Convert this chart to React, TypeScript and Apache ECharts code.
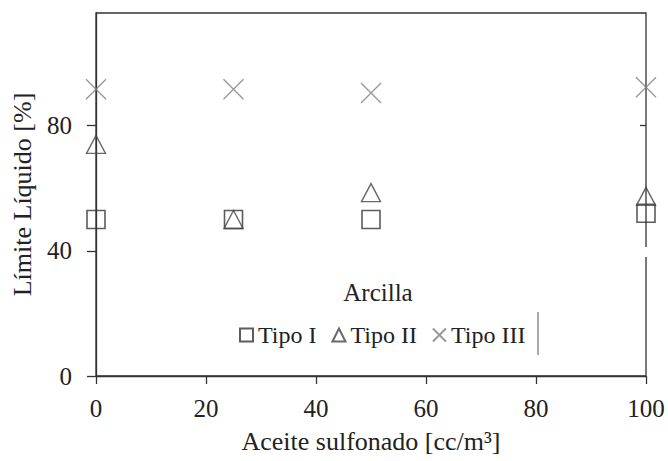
import React, { useEffect, useRef } from 'react';
import * as echarts from 'echarts';

const xValues = [0, 25, 50, 100];
const tipoI = [50, 50, 50, 52];
const tipoII = [74, 50, 58.6, 57.4];
const tipoIII = [91.6, 91.6, 90.4, 92.3];
const seriesNames = ['Tipo I', 'Tipo II', 'Tipo III'];
const yTicks = [0, 40, 80];
const xAxisName = 'Aceite sulfonado [cc/m³]';
const yAxisName = 'Límite Líquido [%]';
const legendTitle = 'Arcilla';

const FONT = 'Liberation Serif';

export default function App() {
  const ref = useRef<HTMLDivElement>(null);
  useEffect(() => {
    if (!ref.current) return;
    const chart = echarts.init(ref.current, undefined, { renderer: 'svg' });
    const pts = (ys: number[]) => xValues.map((x, i) => [x, ys[i]]);
    chart.setOption({
      animation: false,
      backgroundColor: '#fff',
      textStyle: { fontFamily: FONT },
      grid: {
        left: 96, right: 22, top: 13, bottom: 85,
        show: true, borderColor: '#333', borderWidth: 1.3,
      },
      legend: {
        data: seriesNames,
        top: 318, left: 234,
        itemWidth: 13, itemHeight: 13, itemGap: 15,
        selectedMode: false,
        textStyle: { fontSize: 24, fontFamily: FONT, color: '#222' },
      },
      xAxis: {
        type: 'value', min: 0, max: 100, interval: 20,
        axisLine: { lineStyle: { color: '#333', width: 1.3 } },
        axisTick: { inside: false, length: 8, lineStyle: { color: '#333', width: 1.3 } },
        axisLabel: { fontSize: 25, margin: 20, color: '#222', fontFamily: FONT },
        splitLine: { show: false },
        name: xAxisName, nameLocation: 'middle', nameGap: 52,
        nameTextStyle: { fontSize: 26, color: '#222', fontFamily: FONT },
      },
      yAxis: [
        {
          type: 'value', min: 0, max: 116, interval: 40,
          axisLine: { show: true, lineStyle: { color: '#333', width: 1.3 } },
          axisTick: { show: true, inside: false, length: 9, customValues: yTicks, lineStyle: { color: '#333', width: 1.3 } },
          axisLabel: { fontSize: 25, margin: 24, color: '#222', fontFamily: FONT, customValues: yTicks },
          splitLine: { show: false },
          name: yAxisName, nameLocation: 'middle', nameGap: 61,
          nameTextStyle: { fontSize: 26, color: '#222', fontFamily: FONT },
        },
        {
          type: 'value', min: 0, max: 116, position: 'right',
          axisLine: { show: false },
          axisTick: { show: true, inside: true, length: 6, customValues: [80], lineStyle: { color: '#333', width: 1.3 } },
          axisLabel: { show: false },
          splitLine: { show: false },
        },
      ],
      series: [
        {
          name: seriesNames[0], type: 'scatter', data: pts(tipoI), clip: false,
          symbol: 'rect', symbolSize: 18,
          itemStyle: { color: 'rgba(0,0,0,0)', borderColor: '#333', borderWidth: 1.6 },
        },
        {
          name: seriesNames[1], type: 'scatter', data: pts(tipoII), clip: false,
          symbol: 'triangle', symbolSize: [19, 18],
          itemStyle: { color: 'rgba(0,0,0,0)', borderColor: '#444', borderWidth: 1.4 },
        },
        {
          name: seriesNames[2], type: 'scatter', data: pts(tipoIII), clip: false,
          symbol: 'path://M0,0L20,20M20,0L0,20', symbolSize: 20,
          itemStyle: { color: 'rgba(0,0,0,0)', borderColor: '#808080', borderWidth: 1.4 },
        },
      ],
      graphic: [
        {
          type: 'text', x: 378, y: 292,
          style: { text: legendTitle, fontSize: 25, fontFamily: FONT, fill: '#222', align: 'center', verticalAlign: 'middle' },
        },
        {
          type: 'line', shape: { x1: 538, y1: 312, x2: 538, y2: 355 },
          style: { stroke: '#555', lineWidth: 1 },
        },
        {
          type: 'rect', shape: { x: 644, y: 247, width: 5, height: 10 },
          style: { fill: '#fff' }, z: 100,
        },
      ],
    });
    return () => chart.dispose();
  }, []);
  return <div ref={ref} style={{ position: 'fixed', left: 0, top: 0, width: 668, height: 461 }} />;
}
